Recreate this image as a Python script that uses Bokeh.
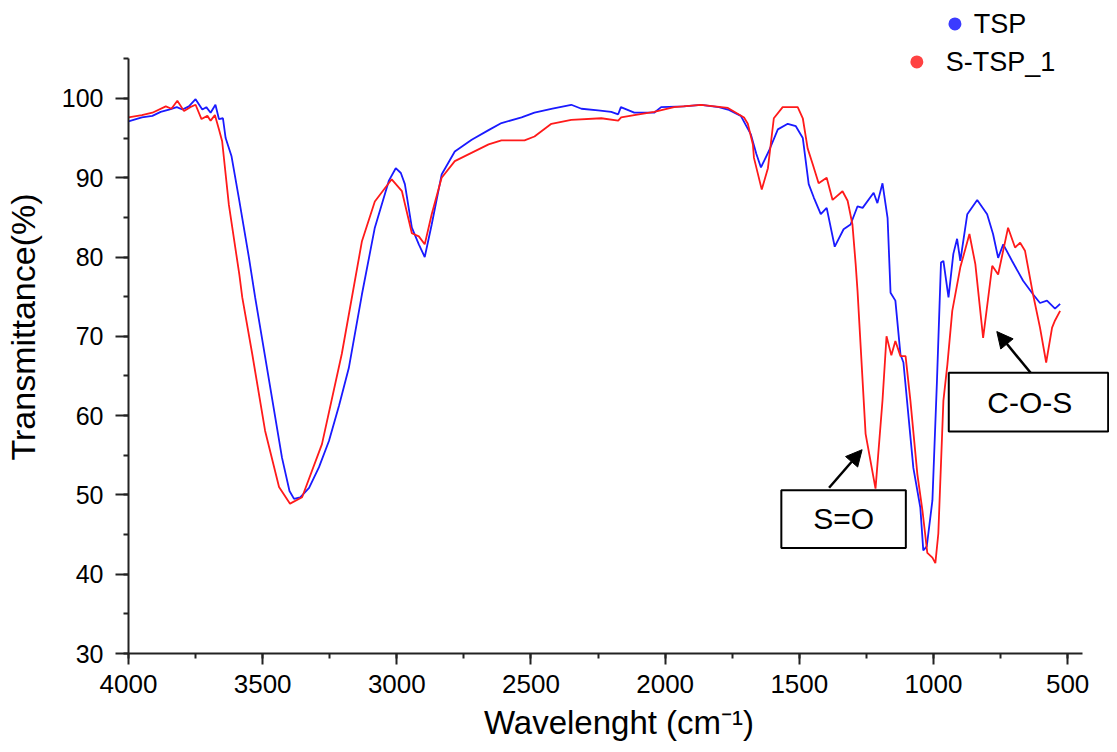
from bokeh.plotting import figure
from bokeh.models import Range1d, FixedTicker, Arrow, NormalHead, BoxAnnotation, Label
from bokeh.core.properties import value
from bokeh.embed import file_html
from bokeh.resources import INLINE

# ---------------- data ----------------
series_names = ["TSP", "S-TSP_1"]
series_colors = ["#1a1aff", "#ff1a1a"]
legend_colors = ["#3b3bff", "#ff4242"]

tsp_wn = [4000, 3950, 3911, 3880, 3849, 3820, 3799, 3775, 3750, 3725, 3710, 3694, 3676, 3663,
          3648, 3638, 3616, 3589, 3551, 3528, 3476, 3428, 3400, 3383, 3360, 3327, 3290, 3253,
          3215, 3179, 3130, 3082, 3030, 3004, 2985, 2970, 2944, 2918, 2896, 2870, 2833, 2784,
          2721, 2658, 2610, 2535, 2487, 2420, 2350, 2312, 2250, 2201, 2175, 2165, 2115, 2041,
          2015, 1930, 1866, 1800, 1766, 1718, 1681, 1660, 1643, 1613, 1580, 1543, 1513, 1487,
          1465, 1446, 1420, 1398, 1368, 1335, 1309, 1283, 1264, 1223, 1209, 1190, 1171, 1160,
          1142, 1123, 1112, 1075, 1049, 1038, 1025, 1004, 987, 972, 963, 944, 926, 912, 900,
          874, 837, 800, 778, 759, 740, 707, 666, 629, 603, 577, 547, 528]
tsp_t = [97.1, 97.6, 97.8, 98.3, 98.6, 98.9, 98.6, 99.0, 99.9, 98.6, 98.9, 98.2, 99.2, 97.4,
         97.5, 95.0, 92.7, 87.5, 79.9, 74.9, 64.4, 54.7, 50.5, 49.5, 49.7, 50.9, 53.5, 56.8,
         61.3, 66.0, 75.3, 83.7, 89.6, 91.2, 90.6, 89.2, 83.7, 81.6, 80.0, 84.1, 90.4, 93.3,
         94.8, 96.0, 96.9, 97.6, 98.2, 98.7, 99.2, 98.7, 98.5, 98.3, 98.0, 98.9, 98.2, 98.2,
         98.9, 99.0, 99.2, 98.9, 98.6, 97.8, 95.5, 93.0, 91.3, 93.4, 96.1, 96.8, 96.5, 95.0,
         89.2, 87.5, 85.4, 86.2, 81.3, 83.5, 84.1, 86.4, 86.2, 88.1, 86.8, 89.3, 84.9, 75.5,
         74.5, 67.7, 66.7, 53.4, 48.4, 43.0, 43.5, 49.3, 64.4, 79.3, 79.5, 74.9, 80.4, 82.3, 79.5,
         85.4, 87.2, 85.4, 82.9, 79.9, 81.6, 79.5, 77.0, 75.3, 74.2, 74.5, 73.5, 74.1]

stsp_wn = [4000, 3950, 3911, 3861, 3840, 3818, 3793, 3770, 3750, 3728, 3706, 3694, 3678, 3663,
           3651, 3626, 3587, 3576, 3539, 3491, 3439, 3398, 3353, 3279, 3205, 3130, 3082, 3019,
           2981, 2944, 2918, 2896, 2870, 2833, 2784, 2658, 2610, 2524, 2487, 2424, 2350, 2238,
           2175, 2164, 2115, 2041, 1967, 1866, 1766, 1706, 1692, 1673, 1669, 1640, 1617, 1595,
           1562, 1506, 1487, 1469, 1450, 1428, 1398, 1376, 1339, 1320, 1302, 1290, 1283, 1253,
           1216, 1190, 1175, 1157, 1142, 1123, 1104, 1086, 1060, 1041, 1023, 1004, 993, 982,
           963, 948, 930, 900, 866, 844, 815, 781, 759, 722, 696, 677, 659, 629, 603, 580, 558,
           547, 528]
stsp_t = [97.6, 97.9, 98.2, 99.0, 98.7, 99.7, 98.4, 98.9, 99.2, 97.4, 97.8, 97.2, 97.9, 96.1,
          94.6, 86.6, 77.8, 74.9, 67.8, 58.1, 51.0, 48.9, 49.7, 56.4, 67.8, 82.0, 87.0, 89.8,
          88.3, 83.0, 82.6, 81.6, 85.4, 90.0, 92.1, 94.2, 94.7, 94.7, 95.2, 96.8, 97.3, 97.5,
          97.2, 97.6, 97.9, 98.3, 98.9, 99.2, 98.8, 97.6, 96.8, 94.2, 92.5, 88.5, 91.2, 97.5,
          98.9, 98.9, 97.5, 93.7, 91.7, 89.3, 90.0, 87.2, 88.3, 87.1, 84.1, 79.1, 75.7, 57.7,
          50.8, 61.9, 70.0, 67.6, 69.4, 67.5, 67.5, 61.9, 52.6, 48.0, 42.7, 42.1, 41.4, 45.1,
          61.9, 66.5, 73.2, 78.7, 82.9, 79.1, 69.8, 78.9, 77.8, 83.7, 81.2, 81.8, 80.8, 75.3,
          71.1, 66.7, 71.1, 72.0, 73.2]

x_ticks = [4000, 3500, 3000, 2500, 2000, 1500, 1000, 500]
y_ticks = [30, 40, 50, 60, 70, 80, 90, 100]
annotations = ["S=O", "C-O-S"]

FONT = "Liberation Sans"
AX = "#222222"

p = figure(width=1109, height=744, x_range=Range1d(4000, 344), y_range=Range1d(30, 112.35),
           output_backend="svg", toolbar_location=None,
           min_border_left=126, min_border_right=0, min_border_top=0, min_border_bottom=91)
p.outline_line_color = None
p.grid.visible = False
p.background_fill_color = "white"

# axes
p.xaxis.bounds = (445, 4000)
p.yaxis.bounds = (30, 105)
p.xaxis.ticker = FixedTicker(ticks=x_ticks, minor_ticks=list(range(500, 4001, 250)))
p.yaxis.ticker = FixedTicker(ticks=y_ticks, minor_ticks=list(range(30, 106, 5)))
for ax in (p.xaxis[0], p.yaxis[0]):
    ax.axis_line_color = AX
    ax.axis_line_width = 2
    ax.major_tick_line_color = AX
    ax.major_tick_line_width = 2
    ax.minor_tick_line_color = AX
    ax.minor_tick_line_width = 2
    ax.major_tick_in = 0
    ax.minor_tick_in = 0
    ax.major_label_text_font = FONT
    ax.axis_label_text_font = FONT
    ax.axis_label_text_font_style = "normal"
    ax.major_label_text_color = "black"
    ax.axis_label_text_color = "black"

p.xaxis.major_tick_out = 11
p.xaxis.minor_tick_out = 5
p.xaxis.major_label_standoff = 10
p.xaxis.major_label_text_font_size = "26px"
p.xaxis.axis_label = "Wavelenght (cm\u207b\u00b9)"
p.xaxis.axis_label_text_font_size = "33px"
p.xaxis.axis_label_standoff = 8

p.yaxis.major_tick_out = 13
p.yaxis.minor_tick_out = 5
p.yaxis.major_label_standoff = 12
p.yaxis.major_label_text_font_size = "25px"
p.yaxis.axis_label = "Transmittance(%)"
p.yaxis.axis_label_text_font_size = "34px"
p.yaxis.axis_label_standoff = 17

# spectra
p.line(tsp_wn, tsp_t, line_color=series_colors[0], line_width=1.8)
p.line(stsp_wn, stsp_t, line_color=series_colors[1], line_width=1.8)

# legend (drawn manually, staggered as in the original)
leg_marker_x = [920, 1062]
leg_marker_y = [109.4, 104.6]
leg_text_x = [850, 954]
p.scatter(leg_marker_x, leg_marker_y, size=13, color=legend_colors, line_color=None)
p.text(leg_text_x, leg_marker_y, text=series_names, text_font=value(FONT),
       text_font_size="27px", text_baseline="middle", text_align="left", text_color="black")

# annotation boxes
box1 = BoxAnnotation(left=1567, right=1103, bottom=43.3, top=50.6, fill_color="white",
                     fill_alpha=1, line_color="black", line_alpha=1, line_width=2)
box2 = BoxAnnotation(left=943, right=349, bottom=58.0, top=65.4, fill_color="white",
                     fill_alpha=1, line_color="black", line_alpha=1, line_width=2)
p.add_layout(box1)
p.add_layout(box2)
p.add_layout(Label(x=1335, y=47.0, text=annotations[0], text_font=FONT, text_font_size="30px",
                   text_align="center", text_baseline="middle", text_color="black"))
p.add_layout(Label(x=641, y=61.7, text=annotations[1], text_font=FONT, text_font_size="30px",
                   text_align="center", text_baseline="middle", text_color="black"))

p.add_layout(Arrow(end=NormalHead(size=16, fill_color="black", line_color="black"),
                   x_start=1389, y_start=50.9, x_end=1266, y_end=55.7,
                   line_color="black", line_width=2.5))
p.add_layout(Arrow(end=NormalHead(size=16, fill_color="black", line_color="black"),
                   x_start=638, y_start=65.4, x_end=764, y_end=70.6,
                   line_color="black", line_width=2.5))

open("out.html", "w").write(file_html(p, INLINE))
